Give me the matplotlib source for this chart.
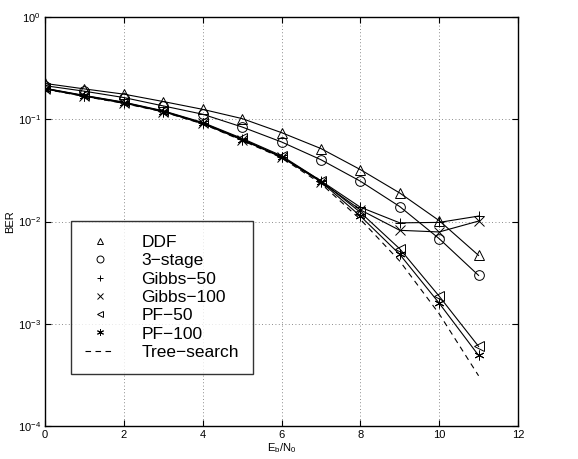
import matplotlib
matplotlib.use("Agg")
import matplotlib.pyplot as plt
from matplotlib.lines import Line2D

plt.rcParams['font.family'] = ['Liberation Sans', 'DejaVu Sans']
plt.rcParams['mathtext.fontset'] = 'custom'
plt.rcParams['mathtext.rm'] = 'Liberation Sans'

ebn0 = [0, 1, 2, 3, 4, 5, 6, 7, 8, 9, 10, 11]
ddf = [0.224, 0.198, 0.176, 0.149, 0.125, 0.1015, 0.074, 0.0517, 0.0322, 0.0190, 0.0102, 0.00466]
three_stage = [0.213, 0.188, 0.163, 0.135, 0.112, 0.084, 0.060, 0.0402, 0.0248, 0.0140, 0.0068, 0.00297]
gibbs50 = [0.200, 0.170, 0.146, 0.120, 0.092, 0.064, 0.043, 0.0250, 0.0138, 0.0097, 0.0098, 0.0113]
gibbs100 = [0.198, 0.168, 0.144, 0.119, 0.091, 0.063, 0.0425, 0.0245, 0.0130, 0.0082, 0.0079, 0.0101]
pf50 = [0.201, 0.171, 0.147, 0.121, 0.093, 0.065, 0.044, 0.0250, 0.0123, 0.0054, 0.00186, 0.00060]
pf100 = [0.199, 0.169, 0.145, 0.119, 0.091, 0.063, 0.043, 0.0245, 0.0113, 0.00477, 0.00159, 0.00049]
tree = [0.197, 0.167, 0.143, 0.118, 0.090, 0.062, 0.042, 0.0235, 0.0105, 0.0041, 0.00125, 0.00031]

labels = ['DDF', '3\u2212stage', 'Gibbs\u221250', 'Gibbs\u2212100', 'PF\u221250', 'PF\u2212100', 'Tree\u2212search']
series = [ddf, three_stage, gibbs50, gibbs100, pf50, pf100]
markers = ['^', 'o', '+', 'x', '<', (6, 2, 0)]

fig = plt.figure(figsize=(5.78, 4.59), dpi=100)
ax = fig.add_axes([45/578, 1-426/459, 473/578, 409/459])

for y, m in zip(series, markers):
    ax.plot(ebn0, y, color='black', lw=0.8, marker=m, markersize=7,
            fillstyle='none', markeredgewidth=0.7)
ax.plot(ebn0, tree, color='black', lw=0.8, dashes=(5, 4))

ax.set_yscale('log')
ax.set_xlim(0, 12)
ax.set_ylim(1e-4, 1)
ax.set_xticks([0, 2, 4, 6, 8, 10, 12])
ax.set_yticks([1e-4, 1e-3, 1e-2, 1e-1, 1])
ax.yaxis.set_minor_locator(matplotlib.ticker.NullLocator())
ax.grid(True, color='0.4', linestyle=(0, (1, 3)), lw=0.6)
ax.tick_params(direction='in', top=True, right=True, labelsize=8, length=4, width=0.8, pad=3)
for s in ax.spines.values():
    s.set_linewidth(1.0)

ax.set_xlabel(r'E$_\mathrm{b}$/N$_0$', fontsize=8, labelpad=1)
ax.set_ylabel('BER', fontsize=8, labelpad=2)

handles = [Line2D([], [], color='black', ls='none', marker=m, markersize=5,
                  fillstyle='none', markeredgewidth=0.7) for m in markers]
handles.append(Line2D([], [], color='black', lw=0.8, dashes=(5, 4)))
leg = ax.legend(handles, labels, loc='upper left', bbox_to_anchor=(0.055, 0.501),
                fontsize=12.5, frameon=True, fancybox=False, edgecolor='black',
                handlelength=1.7, handletextpad=1.55, labelspacing=0.18,
                borderpad=0.8, borderaxespad=0)
leg.get_frame().set_linewidth(1.0)

fig.savefig('out.png', dpi=100)
